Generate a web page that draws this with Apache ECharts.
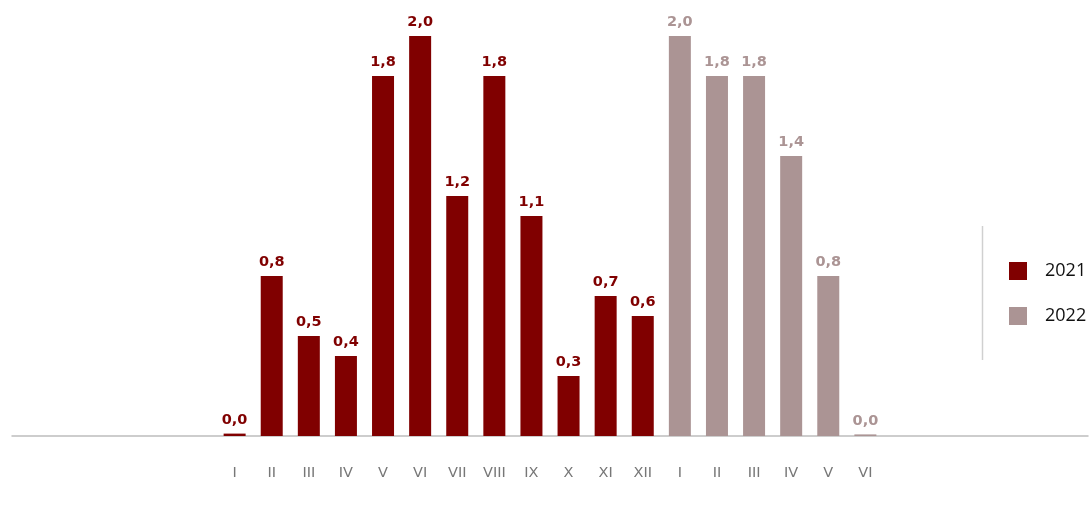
<!DOCTYPE html>
<html><head><meta charset="utf-8">
<script src="https://cdn.jsdelivr.net/npm/echarts@6/dist/echarts.min.js"></script>
<style>html,body{margin:0;padding:0;background:#fff}#c{width:1091px;height:507px}</style>
</head><body><div id="c"></div>
<script>
const months = ['I','II','III','IV','V','VI','VII','VIII','IX','X','XI','XII','I','II','III','IV','V','VI'];
const values2021 = [0.012,0.8,0.5,0.4,1.8,2.0,1.2,1.8,1.1,0.3,0.7,0.6];
const values2022 = [2.0,1.8,1.8,1.4,0.8,0.008];
const padCount = 6;

const pad = Array(padCount).fill('');
const categories = pad.concat(months, pad);
const s2021 = pad.map(()=>null).concat(values2021, Array(months.length - values2021.length + padCount).fill(null));
const s2022 = Array(padCount + values2021.length).fill(null).concat(values2022, pad.map(()=>null));

const fmt = p => p.value == null ? '' : p.value.toFixed(1).replace('.', ',');
const chart = echarts.init(document.getElementById('c'));
chart.setOption({
  animation:false,
  textStyle:{fontFamily:'Open Sans'},
  grid:{left:12,right:1,top:36,bottom:71},
  legend:{orient:'vertical',left:1009,top:262,padding:0,itemWidth:18,itemHeight:18,itemGap:27,icon:'rect',
    textStyle:{fontSize:18,color:'#111',fontFamily:'Open Sans',lineHeight:18,padding:[0,0,0,13]},data:['2021','2022']},
  graphic:[{type:'line',shape:{x1:982.5,y1:226,x2:982.5,y2:360},style:{stroke:'#d0d0d0',lineWidth:1.5}}],
  xAxis:{type:'category',data:categories,boundaryGap:false,
    axisLine:{lineStyle:{color:'#bdbdbd',width:1.5}},axisTick:{show:false},
    axisLabel:{interval:0,margin:30,color:'#777',fontSize:14.5,fontFamily:'DejaVu Sans'}},
  yAxis:{type:'value',min:0,max:2,show:false,splitLine:{show:false}},
  series:[
    {name:'2021',type:'bar',data:s2021,barWidth:22,barGap:'-100%',itemStyle:{color:'#800000'},
     label:{show:true,position:'top',distance:6,formatter:fmt,color:'#800000',fontWeight:'bold',fontSize:14.5,fontFamily:'DejaVu Sans'}},
    {name:'2022',type:'bar',data:s2022,barWidth:22,barGap:'-100%',itemStyle:{color:'#ab9494'},
     label:{show:true,position:'top',distance:6,formatter:fmt,color:'#ab9494',fontWeight:'bold',fontSize:14.5,fontFamily:'DejaVu Sans'}}
  ]
});
</script></body></html>
